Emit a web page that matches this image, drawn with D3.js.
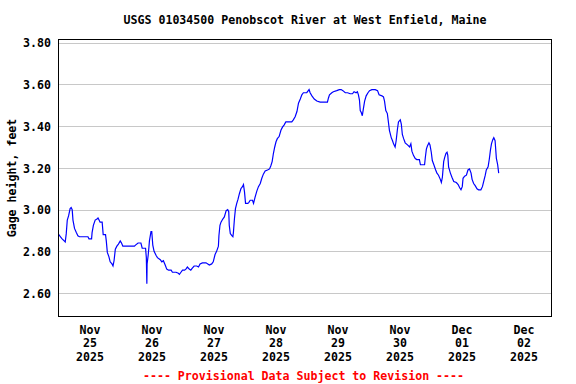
<!DOCTYPE html>
<html>
<head>
<meta charset="utf-8">
<script src="https://cdn.jsdelivr.net/npm/d3@7"></script>
<style>
  html, body { margin: 0; padding: 0; background: #fff; }
  svg { display: block; }
  text { font-family: "DejaVu Sans Mono", monospace; font-weight: bold; font-size: 11.6px; fill: #000; }
</style>
</head>
<body>
<svg id="chart" width="576" height="384"></svg>
<script>
// ---- Data (hours since 2025-11-25 00:00, gage height in feet) ----
const title = "USGS 01034500 Penobscot River at West Enfield, Maine";
const yAxisTitle = "Gage height, feet";
const footerText = "---- Provisional Data Subject to Revision ----";
const yTickValues = [2.6, 2.8, 3.0, 3.2, 3.4, 3.6, 3.8];
const dayStartHours = [0, 24, 48, 72, 96, 120, 144, 168, 192];
const dayLabelMonths = ["Nov", "Nov", "Nov", "Nov", "Nov", "Nov", "Dec", "Dec"];
const dayLabelDays = ["25", "26", "27", "28", "29", "30", "01", "02"];
const dayLabelYears = ["2025", "2025", "2025", "2025", "2025", "2025", "2025", "2025"];

const hours = [
  0.2, 0.7, 1.4, 2.2, 2.6, 3.0, 3.4, 3.9, 4.5, 4.9, 5.3, 5.6, 6.2, 6.9, 7.5, 8.1, 9.4, 10.7, 11.4, 11.8,
  12.8, 13.0, 13.5, 14.2, 14.9, 15.3, 15.7, 16.1, 16.9, 17.3, 18.2, 18.5, 18.9, 19.5, 20.0, 20.7, 21.1, 21.5, 22.0, 22.6,
  23.2, 23.9, 24.4, 24.9, 26.9, 29.4, 29.8, 30.8, 31.9, 32.4, 33.7, 34.0, 34.2, 34.3, 34.7, 35.0, 35.2, 35.8, 36.1, 36.5,
  37.0, 37.8, 38.3, 39.4, 40.0, 40.6, 41.3, 41.9, 42.6, 43.6, 44.1, 45.5, 46.4, 46.8, 47.4, 48.0, 48.8, 49.3, 49.9, 50.6,
  51.2, 51.8, 52.5, 53.5, 54.2, 54.8, 55.7, 57.1, 57.8, 58.4, 59.3, 59.9, 60.6, 61.2, 61.9, 62.1, 62.5, 62.9, 63.6, 64.2,
  64.9, 65.5, 65.9, 66.1, 66.5, 67.1, 67.5, 67.7, 68.1, 68.5, 69.0, 69.5, 70.0, 70.6, 71.2, 71.6, 72.0, 72.4, 73.3, 73.7,
  74.2, 75.1, 75.5, 76.1, 76.8, 77.4, 78.1, 78.7, 79.3, 80.0, 80.9, 81.7, 82.2, 82.7, 83.2, 83.7, 84.2, 84.7, 85.4, 86.1,
  86.7, 87.3, 88.0, 90.3, 90.9, 91.6, 92.3, 92.9, 93.6, 94.2, 94.8, 96.1, 97.0, 97.4, 98.1, 99.0, 100.0, 101.3, 103.2, 104.1,
  104.5, 104.9, 105.8, 106.4, 107.7, 108.7, 109.4, 110.1, 111.0, 111.9, 112.9, 113.8, 114.4, 115.2, 115.7, 116.1, 116.5, 116.8, 117.2, 117.6,
  118.1, 118.5, 119.1, 119.8, 120.4, 121.3, 122.6, 123.5, 124.1, 125.2, 125.8, 126.2, 126.7, 127.3, 127.7, 128.1, 128.8, 129.3, 129.7, 130.3,
  130.7, 131.2, 131.6, 132.3, 132.7, 133.1, 133.6, 134.2, 135.1, 135.9, 136.4, 136.8, 137.4, 138.1, 138.7, 139.7, 140.1, 141.7, 142.0, 142.4,
  142.8, 143.4, 143.8, 144.3, 144.7, 145.3, 146.0, 146.5, 147.1, 147.8, 148.2, 148.6, 149.1, 149.5, 150.0, 150.4, 150.7, 151.0, 151.7, 152.3,
  153.0, 154.0, 154.7, 155.3, 155.8, 156.3, 156.6, 157.2, 157.9, 158.5, 159.1, 159.7, 160.1, 160.7, 161.3, 162.0, 162.6, 163.5, 164.1, 164.6,
  165.2, 165.6, 166.3, 166.8, 167.2, 167.6, 168.1, 168.5, 169.0, 169.5, 170.0, 170.4
];
const gageHeight = [
  2.88, 2.87, 2.86, 2.85, 2.845, 2.885, 2.95, 2.97, 3.005, 3.01, 3.00, 2.95, 2.91, 2.89, 2.875, 2.87, 2.87, 2.87, 2.87, 2.86,
  2.86, 2.89, 2.925, 2.95, 2.955, 2.96, 2.95, 2.94, 2.94, 2.88, 2.88, 2.85, 2.795, 2.775, 2.75, 2.74, 2.73, 2.755, 2.81, 2.825,
  2.835, 2.85, 2.84, 2.825, 2.825, 2.825, 2.83, 2.84, 2.84, 2.815, 2.815, 2.77, 2.645, 2.74, 2.78, 2.82, 2.85, 2.895, 2.895, 2.83,
  2.80, 2.78, 2.77, 2.76, 2.75, 2.755, 2.735, 2.715, 2.71, 2.71, 2.70, 2.70, 2.695, 2.69, 2.70, 2.71, 2.71, 2.715, 2.725, 2.715,
  2.71, 2.72, 2.73, 2.73, 2.725, 2.74, 2.745, 2.745, 2.74, 2.735, 2.74, 2.75, 2.785, 2.80, 2.825, 2.875, 2.925, 2.94, 2.955, 2.965,
  2.995, 3.00, 2.99, 2.925, 2.885, 2.875, 2.87, 2.89, 2.955, 3.005, 3.03, 3.05, 3.075, 3.10, 3.11, 3.12, 3.085, 3.03, 3.03, 3.035,
  3.045, 3.045, 3.03, 3.06, 3.09, 3.11, 3.125, 3.15, 3.17, 3.185, 3.19, 3.195, 3.21, 3.23, 3.27, 3.30, 3.325, 3.34, 3.35, 3.38,
  3.395, 3.405, 3.42, 3.42, 3.43, 3.445, 3.47, 3.51, 3.53, 3.55, 3.56, 3.56, 3.575, 3.56, 3.545, 3.53, 3.52, 3.515, 3.515, 3.515,
  3.535, 3.55, 3.56, 3.565, 3.57, 3.575, 3.575, 3.57, 3.56, 3.56, 3.555, 3.555, 3.565, 3.56, 3.565, 3.55, 3.525, 3.475, 3.465, 3.45,
  3.49, 3.52, 3.545, 3.56, 3.57, 3.575, 3.575, 3.57, 3.55, 3.545, 3.54, 3.52, 3.475, 3.46, 3.42, 3.38, 3.345, 3.33, 3.315, 3.30,
  3.33, 3.385, 3.42, 3.43, 3.41, 3.36, 3.34, 3.32, 3.31, 3.30, 3.315, 3.28, 3.26, 3.245, 3.24, 3.24, 3.215, 3.215, 3.25, 3.29,
  3.305, 3.32, 3.31, 3.275, 3.235, 3.215, 3.19, 3.175, 3.165, 3.145, 3.13, 3.155, 3.23, 3.25, 3.27, 3.275, 3.26, 3.205, 3.175, 3.155,
  3.135, 3.13, 3.12, 3.105, 3.095, 3.11, 3.15, 3.16, 3.165, 3.19, 3.195, 3.175, 3.145, 3.125, 3.115, 3.10, 3.095, 3.095, 3.11, 3.135,
  3.165, 3.19, 3.205, 3.245, 3.285, 3.315, 3.335, 3.345, 3.33, 3.245, 3.215, 3.175
];

// ---- Layout ----
const plot = { left: 58.5, top: 39.5, right: 551.5, bottom: 316.5 };
const svg = d3.select("#chart");

const x = d3.scaleLinear().domain([0, 192]).range([plot.left, plot.left + 8 * 62]);
const y = d3.scaleLinear().domain([2.488, 3.815]).range([plot.bottom, plot.top]);

svg.append("rect").attr("width", 576).attr("height", 384).attr("fill", "#fff");

// clip for plot area
svg.append("clipPath").attr("id", "clip")
  .append("rect").attr("x", plot.left).attr("y", plot.top)
  .attr("width", plot.right - plot.left).attr("height", plot.bottom - plot.top);

// horizontal grid
const yGrid = svg.append("g")
  .attr("transform", `translate(${plot.left},0)`)
  .call(d3.axisLeft(y).tickValues(yTickValues).tickSize(-(plot.right - plot.left)).tickFormat(""));
yGrid.select(".domain").remove();
yGrid.selectAll("line").attr("stroke", "#c8c8c8").attr("stroke-width", 1)
  .attr("shape-rendering", "crispEdges");

// vertical grid (day boundaries)
const xGrid = svg.append("g")
  .attr("transform", `translate(0,${plot.bottom})`)
  .attr("clip-path", "url(#clip)")
  .call(d3.axisBottom(x).tickValues(dayStartHours.slice(1, -1)).tickSize(-(plot.bottom - plot.top)).tickFormat(""));
xGrid.select(".domain").remove();
xGrid.selectAll("line").attr("stroke", "#c8c8c8").attr("stroke-width", 1)
  .attr("shape-rendering", "crispEdges");

// data line
const data = hours.map((h, i) => ({ h, v: gageHeight[i] }));
svg.append("path")
  .datum(data)
  .attr("clip-path", "url(#clip)")
  .attr("fill", "none")
  .attr("stroke", "#0000ff")
  .attr("stroke-width", 1.2)
  .attr("d", d3.line().x(d => x(d.h)).y(d => y(d.v)));

// frame
svg.append("rect")
  .attr("x", plot.left).attr("y", plot.top)
  .attr("width", plot.right - plot.left).attr("height", plot.bottom - plot.top)
  .attr("fill", "none").attr("stroke", "#000").attr("stroke-width", 1)
  .attr("shape-rendering", "crispEdges");

// y axis labels
const yAxis = svg.append("g")
  .attr("transform", `translate(${plot.left},0)`)
  .call(d3.axisLeft(y).tickValues(yTickValues).tickSize(0).tickPadding(7.5).tickFormat(d3.format(".2f")));
yAxis.select(".domain").remove();
yAxis.selectAll("text")
  .attr("font-family", "DejaVu Sans Mono, monospace")
  .attr("font-size", "11.6px").attr("font-weight", "bold").attr("fill", "#000").attr("dy", "0.36em");

// x axis labels (three lines, centered on noon of each day)
const noonHours = dayStartHours.slice(0, -1).map(h => h + 12);
const xAxis = svg.append("g")
  .attr("transform", `translate(0,${plot.bottom})`)
  .call(d3.axisBottom(x).tickValues(noonHours).tickSize(0).tickFormat(""));
xAxis.select(".domain").remove();
xAxis.selectAll(".tick").each(function(d, i) {
  const t = d3.select(this).append("text")
    .attr("text-anchor", "middle")
    .attr("font-family", "DejaVu Sans Mono, monospace")
    .attr("font-size", "11.6px").attr("font-weight", "bold").attr("fill", "#000");
  t.append("tspan").attr("x", 0).attr("y", 17.5).text(dayLabelMonths[i]);
  t.append("tspan").attr("x", 0).attr("y", 30.8).text(dayLabelDays[i]);
  t.append("tspan").attr("x", 0).attr("y", 44.1).text(dayLabelYears[i]);
});

// title
svg.append("text")
  .attr("x", 305).attr("y", 24)
  .attr("text-anchor", "middle")
  .text(title);

// y axis title
svg.append("text")
  .attr("transform", `translate(15.5,${(plot.top + plot.bottom) / 2}) rotate(-90)`)
  .attr("text-anchor", "middle")
  .text(yAxisTitle);

// footer
svg.append("text")
  .attr("x", 303.5).attr("y", 379.5)
  .attr("text-anchor", "middle")
  .style("fill", "#ff0000")
  .text(footerText);
</script>
</body>
</html>
